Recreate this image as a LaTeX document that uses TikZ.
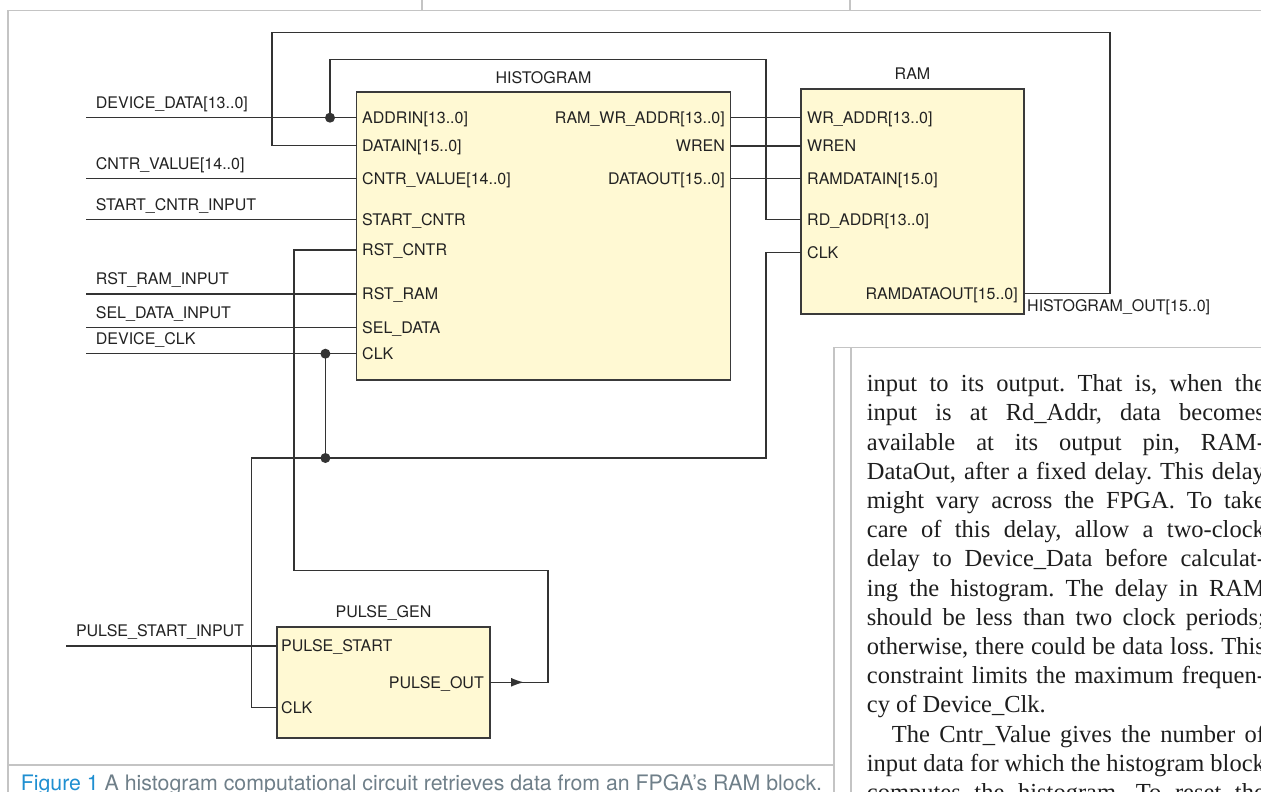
\documentclass[tikz,border=0pt]{standalone}
\usepackage{fontspec}
\setmainfont{Liberation Serif}
\newfontfamily\hv{TeX Gyre Heros}
\usetikzlibrary{arrows.meta}
\definecolor{wirec}{HTML}{333333}
\definecolor{boxc}{HTML}{3A3A3A}
\definecolor{boxfill}{HTML}{FFF9D3}
\definecolor{framec}{HTML}{C4C4C4}
\definecolor{txtc}{HTML}{222222}
\definecolor{capblue}{HTML}{1F8FD1}
\definecolor{capgray}{HTML}{6F7F89}
\definecolor{bodyc}{HTML}{1E1E1E}
\newcommand\jline[1]{\makebox[398pt][s]{#1}}
\frenchspacing
\begin{document}
\begin{tikzpicture}[x=1pt,y=-1pt,
  wire/.style={draw=wirec, line width=1.4pt},
  block/.style={draw=boxc, fill=boxfill, line width=1.4pt, inner sep=0pt, outer sep=0pt, anchor=north west},
  pin/.style={font=\hv\fontsize{16}{19}\selectfont, inner sep=0pt, text=txtc},
  dotn/.style={circle, fill=wirec, inner sep=0pt, minimum size=10pt},
  frame/.style={draw=framec, line width=1.4pt},
  body/.style={font=\fontsize{24.5}{29}\selectfont, inner sep=0pt, text=bodyc, anchor=base west},
]
\useasboundingbox (0,0) rectangle (1261,792);
\fill[white] (0,0) rectangle (1261,792);

% frame lines
\draw[frame] (8,792) -- (8,10.7) -- (1261,10.7);
\draw[frame] (422,0) -- (422,10.7);
\draw[frame] (850,0) -- (850,10.7);
\draw[frame] (8,765) -- (834,765);
\draw[frame] (834,792) -- (834,347.3) -- (1261,347.3);
\draw[frame] (851,347.3) -- (851,792);

% blocks
\node[block, minimum width=374pt, minimum height=288pt] (hist) at (356.5,92) {};
\node[block, minimum width=223pt, minimum height=225pt] (ram) at (801,89) {};
\node[block, minimum width=213pt, minimum height=111pt] (pg) at (277,627) {};

% block titles
\node[pin, anchor=base] (t-hist) at (543.5,83.5) {HISTOGRAM};
\node[pin, anchor=base] (t-ram) at (912.5,79.5) {RAM};
\node[pin, anchor=base] (t-pg) at (383.5,617) {PULSE\_GEN};

% pin coordinates
\coordinate (h-addrin) at (356.5,117.7);
\coordinate (h-datain) at (356.5,145.7);
\coordinate (h-cntr) at (356.5,178.7);
\coordinate (h-start) at (356.5,219.5);
\coordinate (h-rstc) at (356.5,250);
\coordinate (h-rstr) at (356.5,294);
\coordinate (h-sel) at (356.5,327.7);
\coordinate (h-clk) at (356.5,353.7);
\coordinate (h-wr) at (730.5,117.7);
\coordinate (h-wren) at (730.5,146);
\coordinate (h-dout) at (730.5,178.7);
\coordinate (r-wr) at (801,117.7);
\coordinate (r-wren) at (801,146);
\coordinate (r-din) at (801,178.7);
\coordinate (r-rd) at (801,219.5);
\coordinate (r-clk) at (801,252.7);
\coordinate (r-dout) at (1024,293.3);
\coordinate (p-start) at (277,646);
\coordinate (p-clk) at (277,707.7);
\coordinate (p-out) at (490,682.3);

% external inputs
\coordinate (i-dd) at (86,117.7);
\coordinate (i-cv) at (86,178.7);
\coordinate (i-sc) at (86,219.5);
\coordinate (i-rr) at (86,294);
\coordinate (i-sd) at (86,327.7);
\coordinate (i-clk) at (86,353.7);
\coordinate (i-ps) at (66,646);

% hist pin labels
\node[pin, anchor=base west] (l-addrin) at (362,123.4) {ADDRIN[13..0]};
\node[pin, anchor=base west] (l-datain) at (362,151.4) {DATAIN[15..0]};
\node[pin, anchor=base west] (l-cntr) at (362,184.4) {CNTR\_VALUE[14..0]};
\node[pin, anchor=base west] (l-start) at (362,225.2) {START\_CNTR};
\node[pin, anchor=base west] (l-rstc) at (362,255.7) {RST\_CNTR};
\node[pin, anchor=base west] (l-rstr) at (362,299.7) {RST\_RAM};
\node[pin, anchor=base west] (l-sel) at (362,333.4) {SEL\_DATA};
\node[pin, anchor=base west] (l-clk) at (362,359.4) {CLK};
\node[pin, anchor=base east] (l-wr) at (725,123.4) {RAM\_WR\_ADDR[13..0]};
\node[pin, anchor=base east] (l-wren) at (725,151.7) {WREN};
\node[pin, anchor=base east] (l-dout) at (725,184.4) {DATAOUT[15..0]};

% ram pin labels
\node[pin, anchor=base west] (lr-wr) at (807,123.4) {WR\_ADDR[13..0]};
\node[pin, anchor=base west] (lr-wren) at (807,151.7) {WREN};
\node[pin, anchor=base west] (lr-din) at (807,184.4) {RAMDATAIN[15.0]};
\node[pin, anchor=base west] (lr-rd) at (807,225.2) {RD\_ADDR[13..0]};
\node[pin, anchor=base west] (lr-clk) at (807,258.4) {CLK};
\node[pin, anchor=base east] (lr-dout) at (1018,299) {RAMDATAOUT[15..0]};
\node[pin, anchor=base west] (l-hout) at (1027,311.5) {HISTOGRAM\_OUT[15..0]};

% pulse gen labels
\node[pin, anchor=base west] (lp-start) at (281,651.7) {PULSE\_START};
\node[pin, anchor=base west] (lp-clk) at (281,713.4) {CLK};
\node[pin, anchor=base east] (lp-out) at (484,688) {PULSE\_OUT};

% external labels
\node[pin, anchor=base west] (e-dd) at (95.7,108) {DEVICE\_DATA[13..0]};
\node[pin, anchor=base west] (e-cv) at (95.7,169) {CNTR\_VALUE[14..0]};
\node[pin, anchor=base west] (e-sc) at (95.7,210) {START\_CNTR\_INPUT};
\node[pin, anchor=base west] (e-rr) at (95.7,284.5) {RST\_RAM\_INPUT};
\node[pin, anchor=base west] (e-sd) at (95.7,318.2) {SEL\_DATA\_INPUT};
\node[pin, anchor=base west] (e-clk) at (95.7,344.2) {DEVICE\_CLK};
\node[pin, anchor=base west] (e-ps) at (75.8,636.5) {PULSE\_START\_INPUT};

% junction dots
\node[dotn] (j1) at (330,117.7) {};
\node[dotn] (j2) at (325.4,353.7) {};
\node[dotn] (j3) at (325.4,458) {};
\coordinate (ckL) at (251.5,458);
\coordinate (ckR) at (766,458);
\coordinate (tip) at (524,682.3);

% wires
\draw[wire] (i-dd) -- (h-addrin);
\draw[wire] (j1.center) -- (330,59.3) -- (766,59.3) -- (766,219.5) -- (r-rd);
\draw[wire] (r-dout) -- (1110,293.3) -- (1110,32.3) -- (272,32.3) -- (272,145.7) -- (h-datain);
\draw[wire] (i-cv) -- (h-cntr);
\draw[wire] (i-sc) -- (h-start);
\draw[wire] (i-rr) -- (h-rstr);
\draw[wire] (i-sd) -- (h-sel);
\draw[wire] (i-clk) -- (h-clk);
\draw[wire] (h-wr) -- (r-wr);
\draw[wire] (h-wren) -- (r-wren);
\draw[wire] (h-dout) -- (r-din);
\draw[wire] (j2.center) -- (j3.center);
\draw[wire] (p-clk) -| (ckL) -- (ckR) |- (r-clk);
\draw[wire] (i-ps) -- (p-start);
\draw[wire] (p-out) -- (548,682.3) -- (548,570.7) -- (294,570.7) -- (294,250) -- (h-rstc);
\draw[wire, -{Latex[length=13pt,width=9pt]}] (p-out) -- (tip);

% caption
\node[font=\hv\fontsize{21.3}{25}\selectfont, inner sep=0pt, anchor=base west] (cap) at (20.7,790.5)
  {\textcolor{capblue}{Figure 1} \textcolor{capgray}{A histogram computational circuit retrieves data from an FPGA’s RAM block.}};

% body text
\node[body] (b1) at (866.7,391.7) {\jline{input to its output. That is, when the}};
\node[body] (b2) at (866.7,420.9) {\jline{input is at Rd\_Addr, data becomes}};
\node[body] (b3) at (866.7,450.1) {\jline{available at its output pin, RAM-}};
\node[body] (b4) at (866.7,479.3) {\jline{DataOut, after a fixed delay. This delay}};
\node[body] (b5) at (866.7,508.5) {\jline{might vary across the FPGA. To take}};
\node[body] (b6) at (866.7,537.7) {\jline{care of this delay, allow a two-clock}};
\node[body] (b7) at (866.7,566.9) {\jline{delay to Device\_Data before calculat-}};
\node[body] (b8) at (866.7,596.1) {\jline{ing the histogram. The delay in RAM}};
\node[body] (b9) at (866.7,625.3) {\jline{should be less than two clock periods;}};
\node[body] (b10) at (866.7,654.5) {\jline{otherwise, there could be data loss. This}};
\node[body] (b11) at (866.7,683.7) {\jline{constraint limits the maximum frequen-}};
\node[body] (b12) at (866.7,712.9) {cy of Device\_Clk.};
\node[body] (b13) at (891.7,742.1) {\makebox[373pt][s]{The Cntr\_Value gives the number of}};
\node[body] (b14) at (866.7,771.3) {\jline{input data for which the histogram block}};
\node[body] (b15) at (866.7,800.5) {\jline{computes the histogram. To reset the}};
\end{tikzpicture}
\end{document}
